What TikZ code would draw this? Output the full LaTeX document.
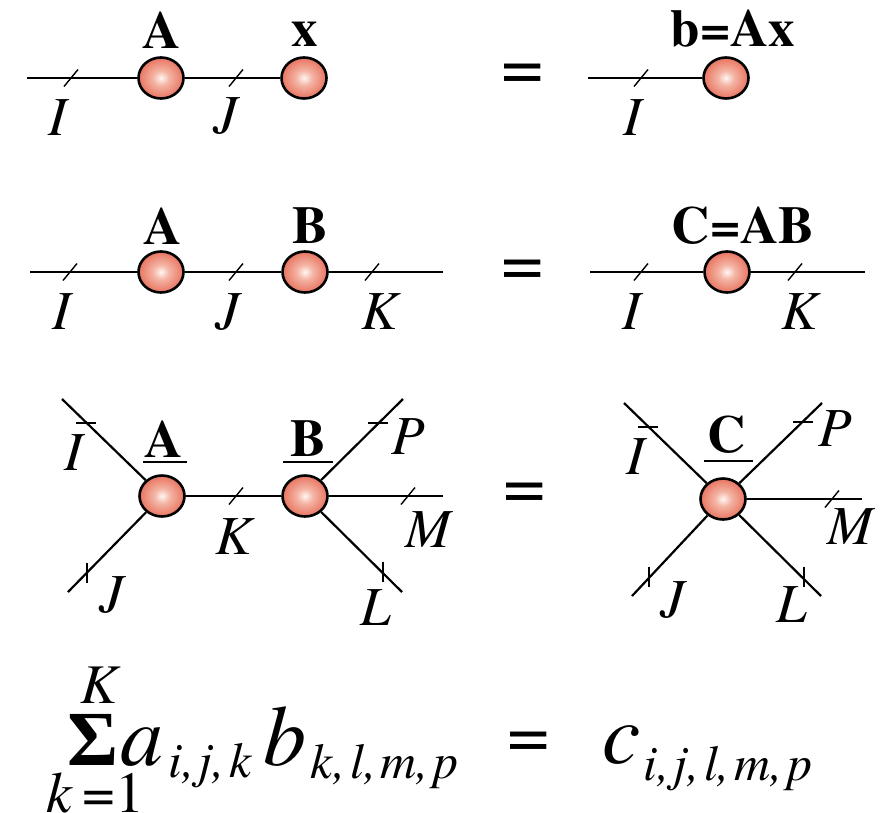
\documentclass[tikz,border=0pt]{standalone}
\usepackage{fontspec}
\setmainfont{texgyretermes}[Extension=.otf, UprightFont=*-regular, BoldFont=*-bold, ItalicFont=*-italic, BoldItalicFont=*-bolditalic]
\newfontfamily\sigmafont{Liberation Serif}[BoldFont={Liberation Serif Bold}]
\usetikzlibrary{shapes.geometric}
\definecolor{bin}{RGB}{254,246,243}
\definecolor{bmid}{RGB}{244,180,164}
\definecolor{bout}{RGB}{232,116,96}
\pgfdeclareradialshading{ballsh}{\pgfpoint{0bp}{0bp}}{color(0bp)=(bin); color(9bp)=(bmid); color(25bp)=(bout); color(50bp)=(bout)}
\newcommand{\tkslash}[1]{\draw[tickm] (#1) +(-7,8.5) -- +(7,-8.5);}
\newcommand{\tkh}[1]{\draw[tickm] (#1) +(-10,0) -- +(10,0);}
\newcommand{\tkv}[1]{\draw[tickm] (#1) +(0,-10) -- +(0,10);}
\newcommand{\cm}{,\kern4pt}
\begin{document}
\begin{tikzpicture}[x=1pt,y=-1pt,
  leg/.style={line width=2.6pt},
  dleg/.style={line width=2.2pt},
  tickm/.style={line width=1.4pt},
  ball/.style={ellipse, draw, line width=2.6pt, minimum width=45pt, minimum height=41pt, inner sep=0pt, shade, shading=ballsh},
  lab/.style={inner sep=0pt, font=\fontsize{55}{60}\selectfont\itshape},
  bl/.style={inner sep=0pt, font=\fontsize{53}{58}\selectfont\bfseries},
  eq/.style={inner sep=0pt, font=\fontsize{75}{80}\selectfont},
  big/.style={inner sep=0pt, anchor=base west, font=\fontsize{86}{90}\selectfont\itshape},
  sub/.style={inner sep=0pt, anchor=base west, font=\fontsize{50}{54}\selectfont\itshape},
  ul/.style={line width=2.8pt},
]
\useasboundingbox (0,0) rectangle (886,812);

% ---------- Row 1 ----------
\coordinate (r1s) at (27,78);
\node[ball] (A1) at (161,78) {};
\node[ball] (X1) at (304,78) {};
\draw[leg] (r1s) -- (A1);
\draw[leg] (A1) -- (X1);
\coordinate (t11) at (71,78); \tkslash{t11}
\coordinate (t12) at (236,78); \tkslash{t12}
\node[lab] (lI1) at (58,118) {I};
\node[lab] (lJ1) at (226,116) {J};
\node[bl] (lA1) at (162,30) {A};
\node[bl] (lx1) at (305,34) {x};
\node[eq] (eq1) at (523,78) {=};
\coordinate (r1r) at (588,78);
\node[ball] (B1) at (726,78) {};
\draw[leg] (r1r) -- (B1);
\coordinate (t13) at (641,78); \tkslash{t13}
\node[lab] (lI1r) at (633,118) {I};
\node[bl] (lb1) at (733,29) {b=Ax};

% ---------- Row 2 ----------
\coordinate (r2s) at (30,272);
\coordinate (r2e) at (443,272);
\node[ball] (A2) at (161,272) {};
\node[ball] (B2) at (305,272) {};
\draw[leg] (r2s) -- (A2);
\draw[leg] (A2) -- (B2);
\draw[leg] (B2) -- (r2e);
\coordinate (t21) at (70,272); \tkslash{t21}
\coordinate (t22) at (236,272); \tkslash{t22}
\coordinate (t23) at (372,272); \tkslash{t23}
\node[lab] (lI2) at (62,312) {I};
\node[lab] (lJ2) at (228,312) {J};
\node[lab] (lK2) at (380,312) {K};
\node[bl] (lA2) at (163,226) {A};
\node[bl] (lB2) at (310,226) {B};
\node[eq] (eq2) at (523,274) {=};
\coordinate (r2rs) at (590,272);
\coordinate (r2re) at (865,272);
\node[ball] (C2) at (727,272) {};
\draw[leg] (r2rs) -- (C2);
\draw[leg] (C2) -- (r2re);
\coordinate (t24) at (641,272); \tkslash{t24}
\coordinate (t25) at (795,272); \tkslash{t25}
\node[lab] (lI2r) at (632,312) {I};
\node[lab] (lK2r) at (800,312) {K};
\node[bl] (lC2) at (743,226) {C=AB};

% ---------- Row 3 ----------
\node[ball] (A3) at (162,496) {};
\node[ball] (B3) at (305,496) {};
\coordinate (eI3) at (62,399);
\coordinate (eJ3) at (68,592);
\coordinate (eP3) at (403,399);
\coordinate (eM3) at (443,496);
\coordinate (eL3) at (402,592);
\draw[dleg] (eI3) -- (A3);
\draw[dleg] (eJ3) -- (A3);
\draw[leg] (A3) -- (B3);
\draw[dleg] (B3) -- (eP3);
\draw[leg] (B3) -- (eM3);
\draw[dleg] (B3) -- (eL3);
\coordinate (t31) at (86,423); \tkh{t31}
\coordinate (t32) at (87,573); \tkv{t32}
\coordinate (t33) at (378,423); \tkh{t33}
\coordinate (t34) at (383,572); \tkv{t34}
\coordinate (t35) at (408,496); \tkslash{t35}
\coordinate (t36) at (236,496); \tkslash{t36}
\node[lab] (lI3) at (74,453) {I};
\node[lab] (lJ3) at (112,595) {J};
\node[lab] (lK3) at (234,537) {K};
\node[lab] (lP3) at (408,437) {P};
\node[lab] (lM3) at (428,530) {M};
\node[lab] (lL3) at (376,608) {L};
\node[bl] (lA3) at (164,439) {A};
\node[bl] (lB3) at (308,439) {B};
\draw[ul] (143,462) -- (187,462);
\draw[ul] (283,462) -- (333,462);
\node[eq] (eq3) at (525,497) {=};
\node[ball] (C3) at (723,499) {};
\coordinate (fI3) at (624,403);
\coordinate (fP3) at (822,403);
\coordinate (fJ3) at (632,596);
\coordinate (fL3) at (821,596);
\coordinate (fM3) at (862,499);
\draw[dleg] (fI3) -- (C3);
\draw[dleg] (C3) -- (fP3);
\draw[dleg] (fJ3) -- (C3);
\draw[dleg] (C3) -- (fL3);
\draw[leg] (C3) -- (fM3);
\coordinate (t41) at (648,427); \tkh{t41}
\coordinate (t42) at (803,422); \tkh{t42}
\coordinate (t43) at (649,577); \tkv{t43}
\coordinate (t44) at (804,577); \tkv{t44}
\coordinate (t45) at (832,499); \tkslash{t45}
\node[lab] (lI4) at (636,457) {I};
\node[lab] (lP4) at (835,429) {P};
\node[lab] (lM4) at (850,527) {M};
\node[lab] (lJ4) at (673,600) {J};
\node[lab] (lL4) at (792,605) {L};
\node[bl] (lC4) at (727,435) {C};
\draw[ul] (704,461) -- (753,461);

% ---------- Row 4: formula ----------
\node[inner sep=0pt, anchor=base, font=\fontsize{56}{60}\selectfont\itshape] (fK) at (99,703) {K};
\node[inner sep=0pt, anchor=base, font=\fontsize{78}{80}\selectfont\sigmafont\bfseries] (fS) at (93,765) {Σ};
\node[inner sep=0pt, anchor=base west, font=\fontsize{58}{60}\selectfont] (fk1) at (46,812) {\textit{k}\,=1};
\node[big] (fa) at (120,765) {a};
\node[sub] (fsa) at (168,777) {i\cm j\cm k};
\node[big] (fb) at (263,765) {b};
\node[sub] (fsb) at (310,778) {k\cm l\cm m\cm p};
\node[eq] (eq4) at (529,746) {=};
\node[big] (fc) at (602,763) {c};
\node[sub] (fsc) at (643,780) {i\cm j\cm l\cm m\cm p};
\end{tikzpicture}
\end{document}
